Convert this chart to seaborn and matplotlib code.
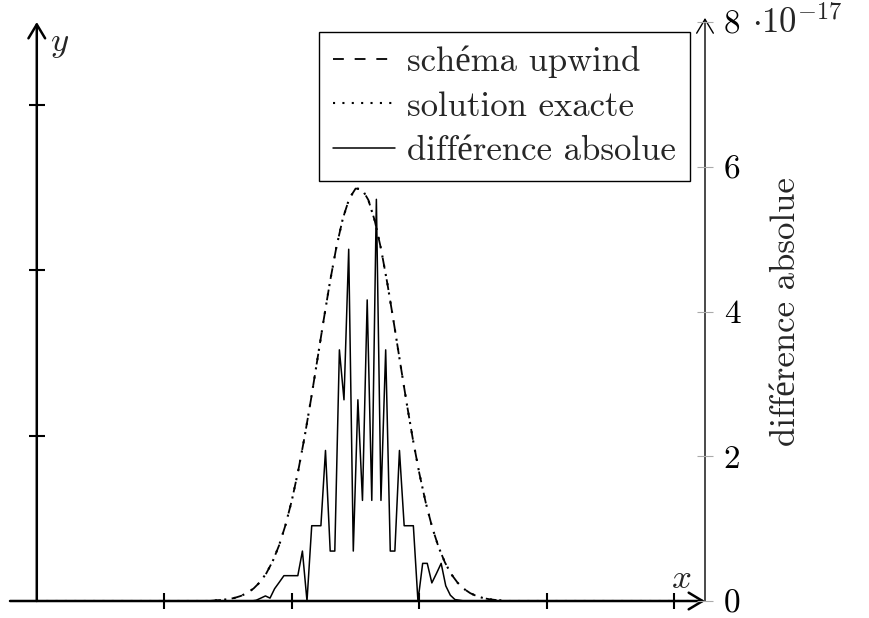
import pandas as pd
import seaborn as sns
import matplotlib.pyplot as plt

# solution exacte / schéma upwind (échelle de gauche)
x_sol = [0.0, 1.35, 1.40, 1.45, 1.50, 1.55, 1.60, 1.65, 1.70, 1.75, 1.80, 1.85,
         1.90, 1.95, 2.00, 2.05, 2.10, 2.15, 2.20, 2.25, 2.30, 2.35, 2.40,
         2.45, 2.50, 2.55, 2.60, 2.65, 2.70, 2.75, 2.80, 2.85, 2.90, 2.95,
         3.00, 3.05, 3.10, 3.15, 3.20, 3.25, 3.30, 3.35, 3.40, 3.45, 3.50,
         3.55, 3.60, 3.65, 3.70, 5.2]
u_exacte = [0.0, 0.0, 0.0007, 0.0013, 0.0022, 0.0037, 0.0061, 0.0097, 0.0151,
            0.0228, 0.0335, 0.0481, 0.0672, 0.0916, 0.1216, 0.1573, 0.1983,
            0.2435, 0.2916, 0.3401, 0.3866, 0.4283, 0.4624, 0.4864, 0.4986,
            0.4981, 0.4849, 0.4600, 0.4253, 0.3831, 0.3363, 0.2877, 0.2398,
            0.1948, 0.1542, 0.1190, 0.0894, 0.0655, 0.0468, 0.0325, 0.0221,
            0.0146, 0.0094, 0.0059, 0.0036, 0.0021, 0.0012, 0.0007, 0.0, 0.0]
# the upwind curve lies on top of the exact one (difference ~1e-17)
u_upwind = list(u_exacte)

# différence absolue (échelle de droite, en 1e-17)
x_diff = [0.0, 1.684, 1.720, 1.757, 1.793, 1.829, 1.865, 1.902, 1.938, 1.974,
          2.010, 2.047, 2.083, 2.119, 2.156, 2.192, 2.228, 2.264, 2.301,
          2.337, 2.373, 2.409, 2.446, 2.482, 2.518, 2.554, 2.591, 2.627,
          2.663, 2.699, 2.736, 2.772, 2.808, 2.844, 2.881, 2.917, 2.953,
          2.989, 3.026, 3.062, 3.098, 3.134, 3.171, 3.207, 3.243, 3.279,
          3.316, 3.352, 5.2]
diff_abs = [0.0, 0.0, 0.01, 0.04, 0.07, 0.04, 0.17, 0.26, 0.35, 0.35, 0.35,
            0.35, 0.69, 0.0, 1.04, 1.04, 1.04, 2.08, 0.69, 0.69, 3.47, 2.78,
            4.86, 0.69, 2.78, 1.39, 4.16, 1.39, 5.55, 1.39, 3.47, 0.69, 0.69,
            2.08, 1.04, 1.04, 1.04, 0.0, 0.52, 0.52, 0.25, 0.38, 0.52, 0.21,
            0.08, 0.02, 0.01, 0.0, 0.0]

x_ticks = [1, 2, 3, 4, 5]
y_ticks_left = [0.2, 0.4, 0.6]
y_ticks_right = [0, 2, 4, 6, 8]

sol = pd.DataFrame({'x': x_sol, 'exacte': u_exacte, 'upwind': u_upwind})
diff = pd.DataFrame({'x': x_diff, 'diff': diff_abs})

sns.set_theme(style='white')
plt.rcParams['font.family'] = ['cmr10', 'Liberation Serif']
plt.rcParams['mathtext.fontset'] = 'cm'
plt.rcParams['axes.formatter.use_mathtext'] = True
plt.rcParams['font.size'] = 25

fig = plt.figure(figsize=(8.69, 6.18), dpi=100)
ax = fig.add_axes([10 / 869, 17 / 618, 695 / 869, 579 / 618])
ax2 = ax.twinx()

sns.lineplot(data=sol, x='x', y='upwind', ax=ax, color='black', lw=1.3,
             linestyle=(0, (6, 6)), label='schéma upwind', legend=False)
sns.lineplot(data=sol, x='x', y='exacte', ax=ax, color='black', lw=1.5,
             linestyle=(0, (1, 3.5)), label='solution exacte', legend=False)
sns.lineplot(data=diff, x='x', y='diff', ax=ax2, color='black', lw=1.1,
             label='différence absolue', legend=False)

ax.set_xlim(-0.21, 5.24)
ax.set_ylim(0, 0.7)
ax2.set_ylim(0, 8)

for a in (ax, ax2):
    for s in a.spines.values():
        s.set_visible(False)
    a.set_xlabel('')
    a.set_ylabel('')
ax.spines['left'].set_position(('data', 0))

ax.set_xticks(x_ticks)
ax.set_yticks(y_ticks_left)
ax.tick_params(axis='x', bottom=True, direction='inout', length=11, width=1.5,
               color='black', labelbottom=False)
ax.tick_params(axis='y', left=True, direction='inout', length=11, width=1.5,
               color='black', labelleft=False)

ax2.set_yticks(y_ticks_right)
ax2.set_yticklabels([str(v) for v in y_ticks_right])
ax2.tick_params(axis='y', right=True, direction='inout', length=11, width=0.8,
                color='#aaaaaa', labelsize=24, pad=8, labelcolor='black')
ax2.set_ylabel('différence absolue', fontsize=25)
ax2.yaxis.set_label_coords(1.094, 0.5)

# axis lines with arrows
arrow = dict(arrowstyle='->, head_length=0.5, head_width=0.3', lw=1.8,
             color='black', shrinkA=0, shrinkB=0, mutation_scale=20)
ax.annotate('', xy=(1, 0), xytext=(0, 0), xycoords='axes fraction',
            arrowprops=arrow)
ax.annotate('', xy=(0, 0.7), xytext=(0, 0), xycoords='data', arrowprops=arrow)
arrow_r = dict(arrow, lw=1.0)
ax.annotate('', xy=(1, 1.007), xytext=(1, 0), xycoords='axes fraction',
            arrowprops=arrow_r)

fig.text(50 / 869, 1 - 44 / 618, '$y$', fontsize=25, ha='left', va='center')
fig.text(681 / 869, 1 - 579 / 618, '$x$', fontsize=25, ha='center', va='center')
fig.text(752 / 869, 1 - 33 / 618, r'$\cdot 10^{-17}$', fontsize=25,
         ha='left', va='baseline')

handles = ax.get_lines()[:2] + ax2.get_lines()[:1]
labels = ['schéma upwind', 'solution exacte', 'différence absolue']
leg = ax2.legend(handles, labels, loc='upper right',
                 bbox_to_anchor=(690 / 869, 1 - 32 / 618),
                 bbox_transform=fig.transFigure, borderaxespad=0,
                 fontsize=25, frameon=True, fancybox=False, framealpha=1,
                 edgecolor='black', handlelength=1.8, handletextpad=0.35,
                 labelspacing=0.36, borderpad=0.4)
leg.get_frame().set_linewidth(1.0)

fig.savefig('out.png', dpi=100)
